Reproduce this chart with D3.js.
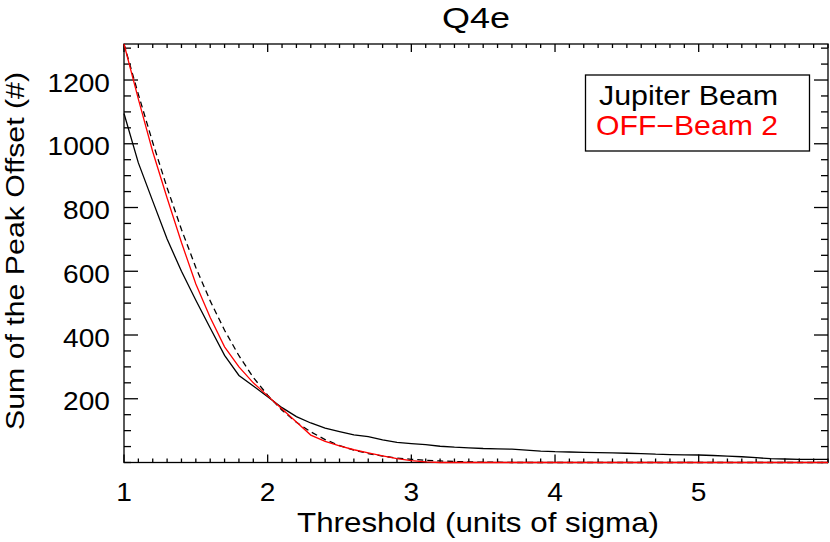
<!DOCTYPE html>
<html>
<head>
<meta charset="utf-8">
<script src="https://cdn.jsdelivr.net/npm/d3@7"></script>
<style>
    body { margin: 0; background: #fff; }
    text { font-family: "Liberation Sans", Arial, Helvetica, sans-serif; fill: #000; }
</style>
</head>
<body>
<svg id="chart" width="830" height="542"></svg>
<script>
// threshold steps (units of sigma)
const thresholds = [1.0, 1.1, 1.2, 1.3, 1.4, 1.5, 1.6, 1.7, 1.8, 1.9,
    2.0, 2.1, 2.2, 2.3, 2.4, 2.5, 2.6, 2.7, 2.8, 2.9,
    3.0, 3.1, 3.2, 3.3, 3.4, 3.5, 3.6, 3.7, 3.8, 3.9,
    4.0, 4.1, 4.2, 4.3, 4.4, 4.5, 4.6, 4.7, 4.8, 4.9,
    5.0, 5.1, 5.2, 5.3, 5.4, 5.5, 5.6, 5.7, 5.8, 5.9];

const jupiterBeam = [1095, 940, 820, 701, 600, 509, 422, 336, 273, 240,
    206, 172, 144, 124, 108, 97, 87, 81, 71, 63,
    59, 56, 51, 48, 46, 44, 43, 42, 39, 36,
    34, 33, 32, 31, 30, 29, 28, 26, 25, 24,
    23.5, 22, 20, 18, 15, 12, 11, 10, 10, 10];

const offBeam2 = [1313, 1140, 975, 830, 690, 560, 455, 363, 300, 250,
    209, 168, 127, 86, 66, 52, 40, 30, 21, 12,
    6, 2, 0, 0, 0, 0, 0, 0, 0, 0,
    0, 0, 0, 0, 0, 0, 0, 0, 0, 0,
    0, 0, 0, 0, 0, 0, 0, 0, 0, 0];

// dashed reference curve
const fitCurve = [1313, 1155, 1004, 862, 731, 612, 507, 415, 335, 267,
    211, 164, 126, 96, 72, 53, 39, 28, 20, 14,
    10, 7, 5, 3, 2, 1, 1, 0, 0, 0,
    0, 0, 0, 0, 0, 0, 0, 0, 0, 0,
    0, 0, 0, 0, 0, 0, 0, 0, 0, 0];

const xTicks = [1, 2, 3, 4, 5];
const yTicks = [200, 400, 600, 800, 1000, 1200];
const legendLabels = ['Jupiter Beam', 'OFF\u2212Beam 2'];

const box = {left: 124, right: 828, top: 44, bottom: 462.5};

const svg = d3.select('#chart');

const x = d3.scaleLinear().domain([1, 5.9]).range([box.left, box.right]);
const y = d3.scaleLinear().domain([0, 1313]).range([box.bottom, box.top]);

const xMinor = d3.range(10, 60, 1).map(d => d / 10);
const yMinor = d3.range(0, 1350, 50);

// stretch text a little, the original glyphs are wider than Helvetica
function stretch(sel, k) {
    sel.each(function () {
        const len = this.getComputedTextLength();
        d3.select(this).attr('textLength', len * k).attr('lengthAdjust', 'spacingAndGlyphs');
    });
}

// ticks on all four sides ////////////////////
const ticks = svg.append('g').attr('stroke', '#000').attr('stroke-width', 1.3);
const xTickLen = v => Math.abs(v - Math.round(v)) < 1e-6 ? 8 : 4;
const yTickLen = v => (v % 200 === 0 && v > 0) ? 14 : 7;

xMinor.forEach(v => {
    const len = xTickLen(v);
    ticks.append('line').attr('x1', x(v)).attr('x2', x(v)).attr('y1', box.bottom).attr('y2', box.bottom - len);
    ticks.append('line').attr('x1', x(v)).attr('x2', x(v)).attr('y1', box.top).attr('y2', box.top + len);
});
yMinor.forEach(v => {
    const len = yTickLen(v);
    ticks.append('line').attr('y1', y(v)).attr('y2', y(v)).attr('x1', box.left).attr('x2', box.left + len);
    ticks.append('line').attr('y1', y(v)).attr('y2', y(v)).attr('x1', box.right).attr('x2', box.right - len);
});

svg.append('rect')
    .attr('x', box.left).attr('y', box.top)
    .attr('width', box.right - box.left).attr('height', box.bottom - box.top)
    .attr('fill', 'none').attr('stroke', '#000').attr('stroke-width', 1.3);

// tick labels
const xLab = svg.append('g').selectAll('text')
    .data(xTicks).enter()
    .append('text')
    .attr('x', d => x(d)).attr('y', 500.5)
    .attr('text-anchor', 'middle')
    .style('font-size', '26px')
    .text(d => d);
stretch(xLab, 1.08);

const yLab = svg.append('g').selectAll('text')
    .data(yTicks).enter()
    .append('text')
    .attr('x', 110).attr('y', d => y(d) + 11.5)
    .attr('text-anchor', 'end')
    .style('font-size', '26px')
    .text(d => d);
stretch(yLab, 1.08);

// titles
svg.append('text')
    .attr('x', 476).attr('y', 28)
    .attr('text-anchor', 'middle')
    .style('font-size', '30px')
    .attr('textLength', 68).attr('lengthAdjust', 'spacingAndGlyphs')
    .text('Q4e');

svg.append('text')
    .attr('x', 478).attr('y', 532)
    .attr('text-anchor', 'middle')
    .style('font-size', '28px')
    .attr('textLength', 362).attr('lengthAdjust', 'spacingAndGlyphs')
    .text('Threshold (units of sigma)');

svg.append('text')
    .attr('transform', 'translate(24,251) rotate(-90)')
    .attr('text-anchor', 'middle')
    .style('font-size', '26.5px')
    .attr('textLength', 358).attr('lengthAdjust', 'spacingAndGlyphs')
    .text('Sum of the Peak Offset (#)');

// lines //////////////////////////////////////
const line = vals => d3.line()
    .x((d, i) => x(thresholds[i]))
    .y(d => y(d))(vals);

svg.append('path').attr('d', line(jupiterBeam))
    .attr('fill', 'none').attr('stroke', '#000').attr('stroke-width', 1.3);

svg.append('path').attr('d', line(fitCurve))
    .attr('fill', 'none').attr('stroke', '#000').attr('stroke-width', 1.3)
    .attr('stroke-dasharray', '6,4');

svg.append('path').attr('d', line(offBeam2))
    .attr('fill', 'none').attr('stroke', '#ff0000').attr('stroke-width', 1.3);

// legend
svg.append('rect')
    .attr('x', 585.5).attr('y', 75).attr('width', 224).attr('height', 76)
    .attr('fill', '#fff').attr('stroke', '#000').attr('stroke-width', 1.3);

svg.append('text')
    .attr('x', 599).attr('y', 105)
    .style('font-size', '28px')
    .attr('textLength', 179).attr('lengthAdjust', 'spacingAndGlyphs')
    .text(legendLabels[0]);

svg.append('text')
    .attr('x', 596).attr('y', 135)
    .style('font-size', '28px')
    .style('fill', '#ff0000')
    .attr('textLength', 182).attr('lengthAdjust', 'spacingAndGlyphs')
    .text(legendLabels[1]);
</script>
</body>
</html>
